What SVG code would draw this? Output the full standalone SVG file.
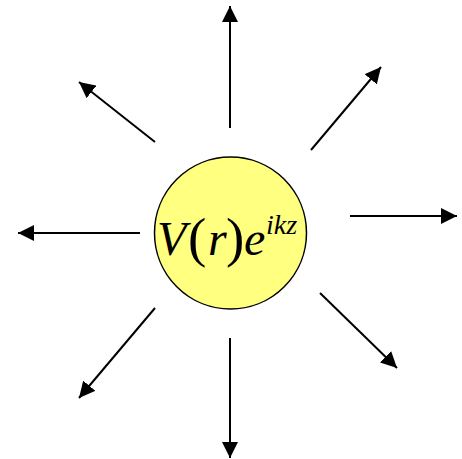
<svg xmlns="http://www.w3.org/2000/svg" width="462" height="459" viewBox="0 0 462 459">
<style>
.c{stroke:#000;stroke-width:2;fill:none}
.p{font-style:normal}
</style>
<defs>
<marker id="ah" markerUnits="userSpaceOnUse" markerWidth="16" markerHeight="16" viewBox="0 0 16 16" refX="16" refY="8" orient="auto">
<path d="M0,0 L16,8 L0,16 Z" fill="#000"/>
</marker>
</defs>
<g id="source">
<circle cx="230.5" cy="233" r="76" fill="#ffff80" stroke="#000" stroke-width="1.5"/>
<text font-family="Liberation Serif, Times New Roman, serif" font-style="italic" fill="#000" font-size="48"><tspan x="157" y="255">V</tspan><tspan class="p" x="188" y="256" font-size="55">(</tspan><tspan x="208" y="255">r</tspan><tspan class="p" x="226" y="256" font-size="55">)</tspan><tspan x="244" y="255">e</tspan><tspan x="266" y="234" font-size="28">ikz</tspan></text>
</g>
<g id="connectors">
<line class="c" x1="230" y1="128" x2="230" y2="6" marker-end="url(#ah)"/>
<line class="c" x1="155" y1="142" x2="79" y2="82" marker-end="url(#ah)"/>
<line class="c" x1="311" y1="150" x2="381" y2="67" marker-end="url(#ah)"/>
<line class="c" x1="140" y1="233" x2="18" y2="233" marker-end="url(#ah)"/>
<line class="c" x1="350" y1="216" x2="457" y2="216" marker-end="url(#ah)"/>
<line class="c" x1="155" y1="308" x2="79" y2="398" marker-end="url(#ah)"/>
<line class="c" x1="230" y1="338" x2="230" y2="458" marker-end="url(#ah)"/>
<line class="c" x1="320" y1="293" x2="397" y2="368" marker-end="url(#ah)"/>
</g>
</svg>
